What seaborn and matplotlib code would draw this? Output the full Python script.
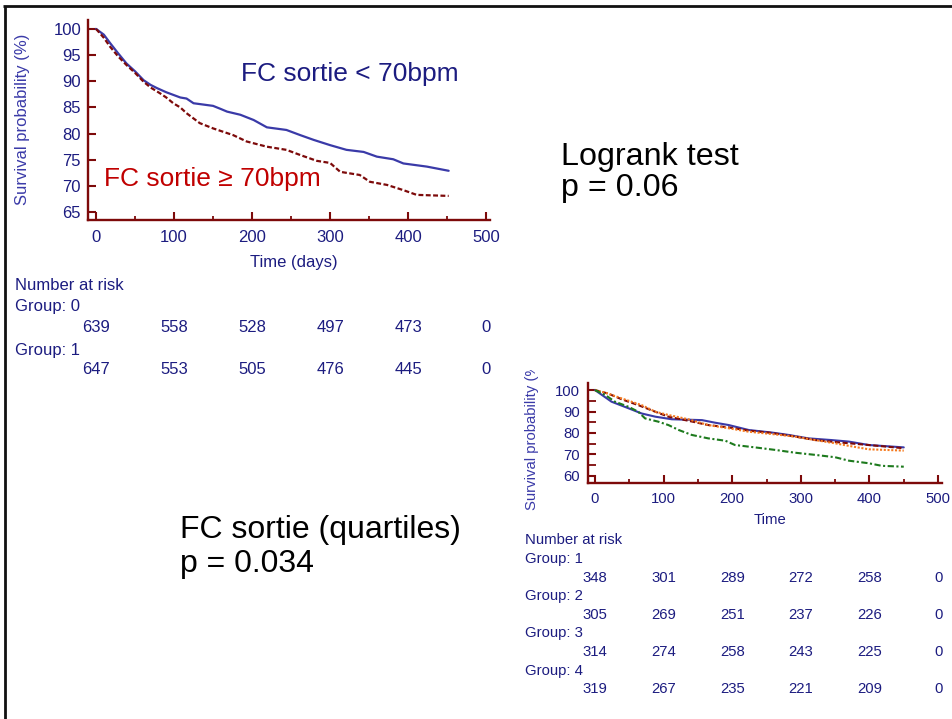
import numpy as np
import pandas as pd
import matplotlib
matplotlib.use("Agg")
import matplotlib.pyplot as plt
import seaborn as sns
from matplotlib.lines import Line2D
from matplotlib.ticker import MultipleLocator
from matplotlib.transforms import Bbox, TransformedBbox, blended_transform_factory

# ---------------- data: chart 1 (two groups) ----------------
t_lt70 = [0, 10, 18, 28, 39, 50, 61, 70, 78, 90, 99, 108, 116, 125, 140, 150, 160, 168,
          185, 202, 219, 244, 262, 279, 300, 321, 343, 360, 381, 394, 424, 452]
s_lt70 = [100, 98.9, 97.3, 95.4, 93.4, 91.9, 90.2, 89.3, 88.7, 87.9, 87.4, 86.9, 86.7, 85.8,
          85.5, 85.3, 84.7, 84.2, 83.6, 82.6, 81.2, 80.7, 79.7, 78.8, 77.8, 76.9, 76.5, 75.6,
          75.1, 74.3, 73.7, 72.9]
t_ge70 = [0, 10, 18, 28, 39, 50, 61, 70, 82, 90, 99, 108, 116, 133, 150, 176, 193, 219,
          244, 262, 283, 300, 313, 338, 351, 373, 394, 411, 452]
s_ge70 = [100, 98.3, 96.6, 94.8, 93.1, 91.6, 89.9, 88.8, 87.7, 86.9, 85.8, 85.0, 83.9, 82.0,
          81.0, 79.7, 78.5, 77.5, 76.9, 75.9, 74.8, 74.4, 72.7, 72.1, 70.8, 70.2, 69.2, 68.3, 68.1]

risk_times = [0, 100, 200, 300, 400, 500]
risk_group0 = [639, 558, 528, 497, 473, 0]
risk_group1 = [647, 553, 505, 476, 445, 0]

# ---------------- data: chart 2 (quartiles) ----------------
q1_t = [0, 24, 49, 68, 88, 112, 156, 175, 195, 224, 258, 282, 311, 345, 370, 399, 450]
q1_s = [100, 94.6, 91.5, 89.1, 87.6, 86.4, 86.0, 84.8, 83.7, 81.4, 80.2, 79.1, 77.5, 76.7,
        76.0, 74.4, 73.3]
q2_t = [0, 19, 39, 63, 88, 107, 136, 165, 195, 224, 253, 287, 321, 360, 399, 450]
q2_s = [100, 98.4, 95.7, 93.0, 89.9, 87.6, 85.7, 83.7, 82.6, 81.1, 80.2, 78.6, 76.7, 75.5,
        74.4, 72.9]
q3_t = [0, 15, 39, 68, 88, 107, 136, 165, 195, 224, 258, 292, 321, 350, 370, 399, 450]
q3_s = [100, 98.8, 96.1, 93.0, 89.9, 88.4, 86.4, 83.7, 82.2, 80.6, 79.5, 78.3, 76.7, 75.2,
        74.0, 72.4, 71.8]
q4_t = [0, 15, 29, 49, 63, 73, 92, 107, 122, 141, 165, 190, 204, 233, 263, 292, 321, 350,
        370, 399, 418, 450]
q4_s = [100, 97.7, 94.6, 92.2, 89.9, 86.8, 85.3, 83.7, 81.4, 79.1, 77.5, 76.4, 74.4, 73.3,
        72.1, 70.8, 69.8, 68.7, 67.1, 65.9, 64.7, 64.3]

risk_q1 = [348, 301, 289, 272, 258, 0]
risk_q2 = [305, 269, 251, 237, 226, 0]
risk_q3 = [314, 274, 258, 243, 225, 0]
risk_q4 = [319, 267, 235, 221, 209, 0]

# ---------------- style ----------------
sns.set_theme(style="white")
plt.rcParams['font.family'] = ['Liberation Sans', 'DejaVu Sans']

MAROON = "#7d0a0a"
NAVY = "#1c1c80"
BLUE = "#3a3aa8"
RED = "#c00000"
ORANGE = "#f57a1f"
GREEN = "#1d7a1d"

W, H = 952, 719
fig = plt.figure(figsize=(W / 100, H / 100), dpi=100)
fig.patch.set_facecolor("white")


def fx(px):
    return px / W


def fy(py):
    return 1 - py / H


def style_axes(ax, labelsize, xpad, ypad):
    for side in ("top", "right"):
        ax.spines[side].set_visible(False)
    for side in ("left", "bottom"):
        ax.spines[side].set_color(MAROON)
        ax.spines[side].set_linewidth(1.7)
    ax.set_facecolor("white")
    ax.grid(False)
    ax.tick_params(axis="both", which="major", direction="in", length=6, width=1.5,
                   color=MAROON, labelcolor=NAVY, labelsize=labelsize)
    ax.tick_params(axis="both", which="minor", direction="in", length=3, width=1.3,
                   color=MAROON)
    ax.tick_params(axis="x", which="major", pad=xpad)
    ax.tick_params(axis="y", which="major", pad=ypad)
    ax.tick_params(left=True, bottom=True, which="both")
    ax.set_xlabel("")
    ax.set_ylabel("")


# ---------------- chart 1 ----------------
ax1 = fig.add_axes([fx(88), fy(220), 402 / W, 200 / H])
df_a = pd.DataFrame({"t": t_lt70, "s": s_lt70})
df_b = pd.DataFrame({"t": t_ge70, "s": s_ge70})
sns.lineplot(data=df_a, x="t", y="s", ax=ax1, color=BLUE, lw=1.6, estimator=None, sort=False)
sns.lineplot(data=df_b, x="t", y="s", ax=ax1, color=MAROON, lw=1.6, estimator=None,
             sort=False, linestyle=(0, (2.2, 1.1)))
ax1.set_xlim(-10.3, 505)
ax1.set_ylim(63.5, 101.7)
ax1.set_xticks(risk_times)
ax1.xaxis.set_minor_locator(MultipleLocator(50))
ax1.set_yticks(list(range(65, 101, 5)))
style_axes(ax1, 12, 7, 5)

fig.text(fx(23), fy(119), "Survival probability (%)", rotation=90, ha="center", va="center",
         color=BLUE, fontsize=12)
fig.text(fx(294), fy(263), "Time (days)", ha="center", va="center", color=NAVY, fontsize=12)

fig.text(fx(241), fy(81), "FC sortie < 70bpm", ha="left", va="baseline", color=NAVY,
         fontsize=19)
fig.text(fx(104), fy(186), "FC sortie \u2265 70bpm", ha="left", va="baseline", color=RED,
         fontsize=19)

tr1 = blended_transform_factory(ax1.transData, fig.transFigure)
fig.text(fx(15), fy(285), "Number at risk", ha="left", va="center", color=NAVY, fontsize=12)
fig.text(fx(15), fy(307), "Group: 0", ha="left", va="center", color=NAVY, fontsize=12)
fig.text(fx(15), fy(350), "Group: 1", ha="left", va="center", color=NAVY, fontsize=12)
for xt, n0, n1 in zip(risk_times, risk_group0, risk_group1):
    ax1.text(xt, fy(328), str(n0), transform=tr1, ha="center", va="center", color=NAVY,
             fontsize=12, clip_on=False)
    ax1.text(xt, fy(369), str(n1), transform=tr1, ha="center", va="center", color=NAVY,
             fontsize=12, clip_on=False)

# ---------------- annotations ----------------
fig.text(fx(561), fy(165), "Logrank test", ha="left", va="baseline", color="black",
         fontsize=23.2)
fig.text(fx(561), fy(196), "p = 0.06", ha="left", va="baseline", color="black",
         fontsize=23.2)
fig.text(fx(180), fy(538), "FC sortie (quartiles)", ha="left", va="baseline", color="black",
         fontsize=23)
fig.text(fx(180), fy(572), "p = 0.034", ha="left", va="baseline", color="black", fontsize=23)

# ---------------- chart 2 ----------------
ax2 = fig.add_axes([fx(588), fy(483), 353.5 / W, 100 / H])
quartiles = [(q1_t, q1_s, BLUE, "-"),
             (q2_t, q2_s, MAROON, (0, (2.5, 1.2))),
             (q3_t, q3_s, ORANGE, (0, (1, 0.8))),
             (q4_t, q4_s, GREEN, (0, (3, 1.2, 1, 1.2)))]
for qt, qs, col, ls in quartiles:
    d = pd.DataFrame({"t": qt, "s": qs})
    sns.lineplot(data=d, x="t", y="s", ax=ax2, color=col, lw=1.5, estimator=None,
                 sort=False, linestyle=ls)
ax2.set_xlim(-10.2, 505)
ax2.set_ylim(56.7, 103.3)
ax2.set_xticks(risk_times)
ax2.xaxis.set_minor_locator(MultipleLocator(50))
ax2.set_yticks(list(range(60, 101, 10)))
ax2.yaxis.set_minor_locator(MultipleLocator(5))
style_axes(ax2, 10.7, 6.5, 5.5)
ax2.tick_params(axis="y", which="minor", length=6)

ylab2 = fig.text(fx(532), fy(510), "Survival probability (%)", rotation=90, ha="center",
                 va="bottom", color=BLUE, fontsize=10.7)
ylab2.set_clip_box(TransformedBbox(Bbox([[0, 0], [1, fy(370)]]), fig.transFigure))
ylab2.set_clip_on(True)
fig.text(fx(770), fy(520), "Time", ha="center", va="center", color=NAVY, fontsize=10.7)

tr2 = blended_transform_factory(ax2.transData, fig.transFigure)
fig.text(fx(525), fy(540), "Number at risk", ha="left", va="center", color=NAVY, fontsize=10.7)
group_rows = [("Group: 1", risk_q1, 559, 578),
              ("Group: 2", risk_q2, 596, 615),
              ("Group: 3", risk_q3, 633, 652),
              ("Group: 4", risk_q4, 671, 689)]
for name, vals, gy, ny in group_rows:
    fig.text(fx(525), fy(gy), name, ha="left", va="center", color=NAVY, fontsize=10.7)
    for xt, n in zip(risk_times, vals):
        ax2.text(xt, fy(ny), str(n), transform=tr2, ha="center", va="center", color=NAVY,
                 fontsize=10.7, clip_on=False)

# ---------------- slide frame ----------------
fig.add_artist(Line2D([fx(3), 1], [fy(6), fy(6)], transform=fig.transFigure, color="#111111",
                      lw=2.0, solid_capstyle="butt"))
fig.add_artist(Line2D([fx(5.3), fx(5.3)], [0, fy(6)], transform=fig.transFigure,
                      color="#111111", lw=2.0, solid_capstyle="butt"))

fig.savefig("out.png", dpi=100, facecolor="white")
